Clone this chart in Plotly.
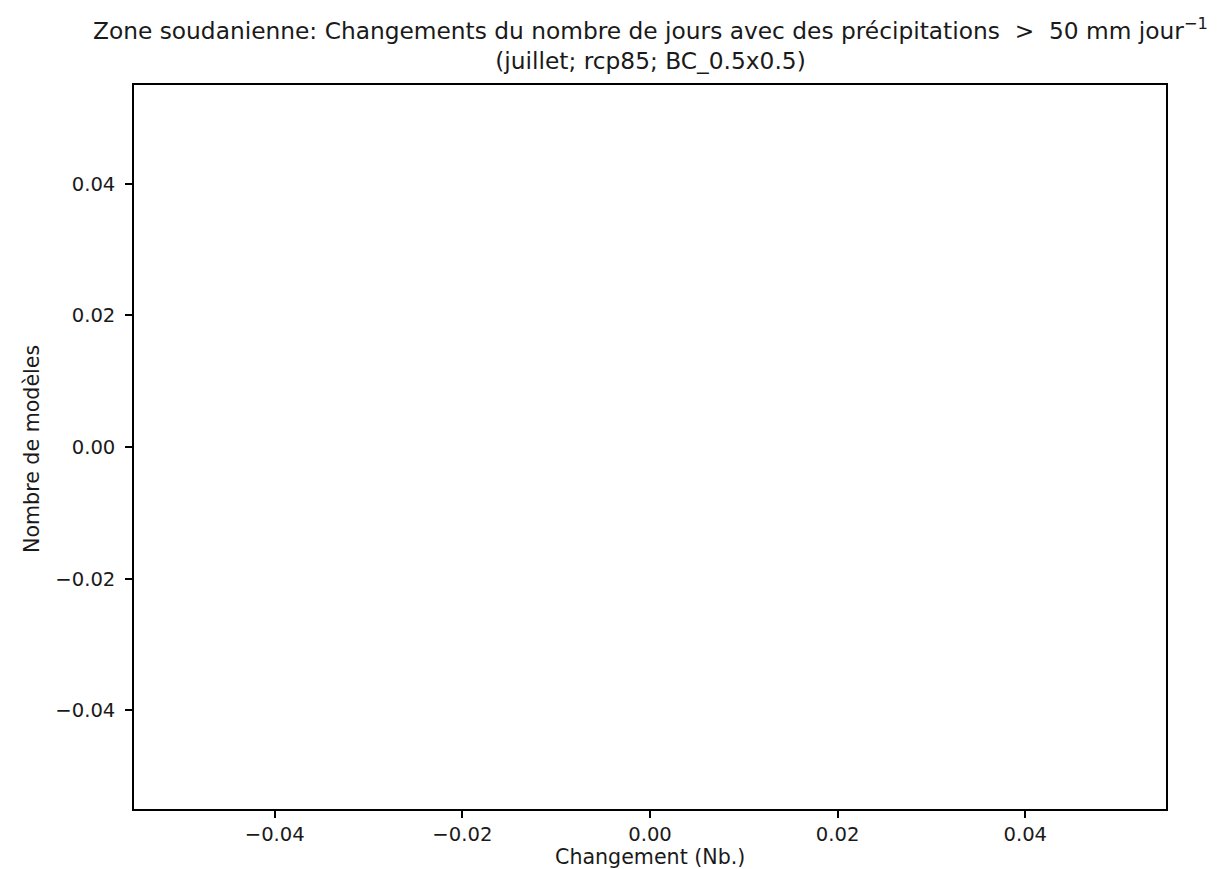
import plotly.graph_objects as go

# Data: the reference histogram is empty (no model values)
changes = []
x_ticks = [-0.04, -0.02, 0.00, 0.02, 0.04]
y_ticks = [-0.04, -0.02, 0.00, 0.02, 0.04]
x_tick_labels = ["−0.04", "−0.02", "0.00", "0.02", "0.04"]
y_tick_labels = ["−0.04", "−0.02", "0.00", "0.02", "0.04"]

title_line1 = "Zone soudanienne: Changements du nombre de jours avec des précipitations  >  50 mm jour<sup>−1</sup>"
title_line2 = "(juillet; rcp85; BC_0.5x0.5)"
x_label = "Changement (Nb.)"
y_label = "Nombre de modèles"

fig = go.Figure()
fig.add_trace(go.Histogram(x=changes, marker_color="#1f77b4"))

font = "DejaVu Sans"
tick_size = 19.6
label_size = 20.6
text_color = "#1a1a1a"
fig.update_layout(
    width=1219, height=869,
    margin=dict(l=126, r=61, t=77, b=68),
    plot_bgcolor="white", paper_bgcolor="white",
    font=dict(family=font, size=tick_size, color="black"),
    showlegend=False,
)
# Title (two lines)
fig.add_annotation(
    text=title_line1 + "<br>" + title_line2,
    xref="paper", yref="paper", x=0.5, y=1, xanchor="center", yanchor="middle",
    yshift=41, showarrow=False, align="center",
    font=dict(family=font, size=23.3, color=text_color),
)
# Axis labels
fig.add_annotation(
    text=x_label, xref="paper", yref="paper", x=0.5, y=0,
    xanchor="center", yanchor="middle", yshift=-48, showarrow=False,
    font=dict(family=font, size=label_size, color=text_color),
)
fig.add_annotation(
    text=y_label, xref="paper", yref="paper", x=0, y=0.5, textangle=-90,
    xanchor="center", yanchor="middle", xshift=-102, yshift=-2, showarrow=False,
    font=dict(family=font, size=label_size, color=text_color),
)
axis_common = dict(
    range=[-0.055, 0.055],
    showgrid=False, zeroline=False, showline=True, linecolor="black", linewidth=1.5,
    mirror=True, ticks="outside", ticklen=7, tickcolor="black", tickwidth=1.5,
    tickfont=dict(family=font, size=tick_size, color=text_color),
)
fig.update_xaxes(tickvals=x_ticks, ticktext=x_tick_labels, **axis_common)
fig.update_yaxes(tickvals=y_ticks, ticktext=y_tick_labels, ticklabelstandoff=6, **axis_common)

fig.write_html("out.html")
